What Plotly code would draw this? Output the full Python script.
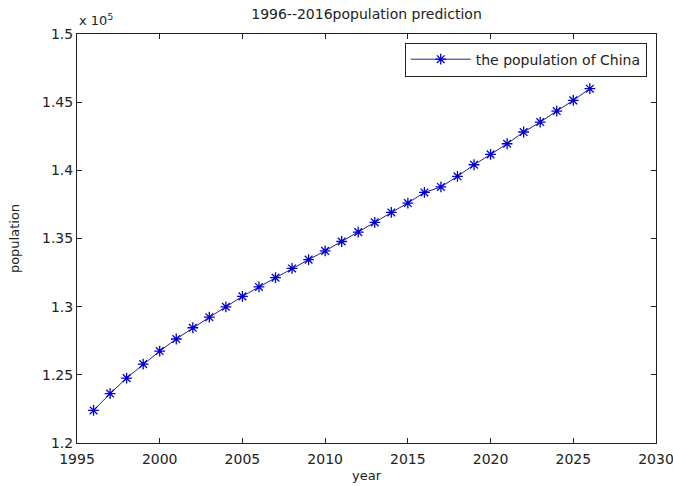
import plotly.graph_objects as go

# Population of China (unit: 10,000 people), 1996-2016 observed, 2017-2026 predicted
years = list(range(1996, 2027))
population = [
    122389, 123626, 124761, 125786, 126743, 127627, 128453, 129227, 129988, 130756,
    131448, 132129, 132802, 133450, 134091, 134780, 135470, 136180, 136910, 137600,
    138380, 138780, 139560, 140410, 141170, 141950, 142810, 143540, 144350, 145130,
    145990,
]

x_ticks = [1995, 2000, 2005, 2010, 2015, 2020, 2025, 2030]
y_ticks = [120000, 125000, 130000, 135000, 140000, 145000, 150000]
y_tick_text = ["1.2", "1.25", "1.3", "1.35", "1.4", "1.45", "1.5"]

font_family = "DejaVu Sans, Arial, sans-serif"
text_color = "#222222"

fig = go.Figure()
fig.add_trace(go.Scatter(
    x=years,
    y=population,
    mode="lines+markers",
    name="the population of China",
    line=dict(color="#23238f", width=1),
    marker=dict(symbol="asterisk-open", size=9,
                color="#0000d0", line=dict(color="#0000d0", width=1.3)),
))

axis_common = dict(
    showgrid=False,
    zeroline=False,
    showline=True,
    linecolor=text_color,
    linewidth=1,
    mirror="ticks",
    ticks="inside",
    ticklen=5,
    tickcolor=text_color,
    tickfont=dict(family=font_family, size=14, color=text_color),
    automargin=False,
    ticklabeloverflow="allow",
)

fig.update_xaxes(
    range=[1995, 2030],
    tickvals=x_ticks,
    ticklabelstandoff=3,
    title=dict(text="year", font=dict(family=font_family, size=13, color=text_color), standoff=5),
    **axis_common,
)
fig.update_yaxes(
    range=[120000, 150000],
    tickvals=y_ticks,
    ticktext=y_tick_text,
    title=dict(text="population", font=dict(family=font_family, size=13, color=text_color), standoff=19),
    **axis_common,
)

fig.update_layout(
    width=673,
    height=486,
    margin=dict(l=77, r=17, t=34, b=43),
    paper_bgcolor="white",
    plot_bgcolor="white",
    title=dict(
        text="1996--2016population prediction",
        x=0.5 * (77 + 656) / 673,
        xanchor="center",
        y=1 - 14 / 486,
        yanchor="middle",
        font=dict(family=font_family, size=14, color=text_color),
    ),
    legend=dict(
        x=0.984,
        y=0.979,
        xanchor="right",
        yanchor="top",
        bgcolor="white",
        bordercolor=text_color,
        borderwidth=1,
        itemwidth=60,
        tracegroupgap=0,
        font=dict(family=font_family, size=14, color=text_color),
    ),
    showlegend=True,
    annotations=[
        dict(
            text="x 10<sup>5</sup>",
            xref="paper",
            yref="paper",
            x=0.0,
            y=1.0,
            xanchor="left",
            yanchor="bottom",
            yshift=4,
            showarrow=False,
            font=dict(family=font_family, size=13, color=text_color),
        )
    ],
)

fig.write_html("out.html")
